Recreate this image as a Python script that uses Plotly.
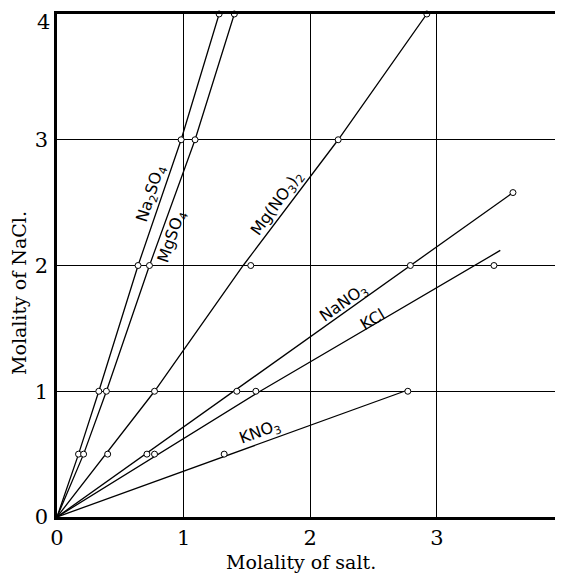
import plotly.graph_objects as go

# Observed points (molality of salt, molality of NaCl)
na2so4_x = [0.17, 0.33, 0.64, 0.98, 1.28]
na2so4_y = [0.5, 1.0, 2.0, 3.0, 4.0]
mgso4_x = [0.21, 0.39, 0.73, 1.09, 1.40]
mgso4_y = [0.5, 1.0, 2.0, 3.0, 4.0]
mgno3_x = [0.40, 0.77, 1.53, 2.22, 2.92]
mgno3_y = [0.5, 1.0, 2.0, 3.0, 4.0]
nano3_x = [0.71, 1.42, 2.79, 3.60]
nano3_y = [0.5, 1.0, 2.0, 2.58]
kcl_x = [0.77, 1.57, 3.45]
kcl_y = [0.5, 1.0, 2.0]
kno3_x = [1.32, 2.77]
kno3_y = [0.5, 1.0]

# Drawn curves
na2so4_cx = [0, 0.17, 0.33, 0.64, 0.98, 1.28]
na2so4_cy = [0, 0.5, 1.0, 2.0, 3.0, 4.0]
mgso4_cx = [0, 0.21, 0.39, 0.73, 1.0, 1.09, 1.40]
mgso4_cy = [0, 0.5, 1.0, 2.0, 2.75, 3.0, 4.0]
mgno3_cx = [0, 0.77, 1.47, 2.22, 2.92]
mgno3_cy = [0, 1.0, 2.0, 3.0, 4.0]
nano3_cx = [0, 3.60]
nano3_cy = [0, 2.58]
kcl_cx = [0, 0.77, 1.57, 3.50]
kcl_cy = [0, 0.48, 0.98, 2.12]
kno3_cx = [0, 2.77]
kno3_cy = [0, 1.01]

labels = ["Na<sub>2</sub>SO<sub>4</sub>", "MgSO<sub>4</sub>", "Mg(NO<sub>3</sub>)<sub>2</sub>",
          "NaNO<sub>3</sub>", "KCl", "KNO<sub>3</sub>"]
label_x = [0.745, 0.91, 1.74, 2.26, 2.49, 1.60]
label_y = [2.57, 2.23, 2.49, 1.70, 1.57, 0.67]
label_angle = [-72, -71, -54, -35, -31, -20]

x_title = "Molality of salt."
y_title = "Molality of NaCl."
x_tick_vals = [0, 1, 2, 3, 4]
x_tick_text = ["0", "1", "2", "3", "4"]
y_tick_vals = [0, 1, 2, 3, 4]
y_tick_text = ["0", "1", "2", "3", ""]   # top label "4" drawn below the frame line
y_top_label = "4"

fig = go.Figure()
curves = [(na2so4_cx, na2so4_cy), (mgso4_cx, mgso4_cy), (mgno3_cx, mgno3_cy),
          (nano3_cx, nano3_cy), (kcl_cx, kcl_cy), (kno3_cx, kno3_cy)]
for cx, cy in curves:
    fig.add_trace(go.Scatter(x=cx, y=cy, mode="lines", line=dict(color="black", width=1.3),
                             showlegend=False, hoverinfo="skip", cliponaxis=False))
pts = [(na2so4_x, na2so4_y), (mgso4_x, mgso4_y), (mgno3_x, mgno3_y),
       (nano3_x, nano3_y), (kcl_x, kcl_y), (kno3_x, kno3_y)]
for px, py in pts:
    fig.add_trace(go.Scatter(x=px, y=py, mode="markers",
                             marker=dict(symbol="circle", size=6, color="white",
                                         line=dict(color="black", width=1)),
                             showlegend=False, cliponaxis=False))

for t, x, y, a in zip(labels, label_x, label_y, label_angle):
    fig.add_annotation(x=x, y=y, text=t, textangle=a, showarrow=False,
                       xanchor="center", yanchor="middle",
                       font=dict(family="DejaVu Sans", size=16, color="black"))

# the page body has a small default margin; size the figure to fit inside the window
OFF = 7
W, H = 563 - OFF, 573 - OFF
L, T = 56 - OFF, 13 - OFF
R = 0
B = H - (516 - OFF)
pw, ph = W - L - R, H - T - B

serif = "DejaVu Serif"
tick_size = 21
# axis titles placed at window pixel positions
title_specs = [(x_title, 300, 561, 0), (y_title, 18, 292, -90)]
for text, sx, sy, ang in title_specs:
    fx, fy = sx - OFF, sy - OFF
    fig.add_annotation(x=(fx - L) / pw, y=(H - B - fy) / ph, xref="paper", yref="paper",
                       xanchor="center", yanchor="middle",
                       text=text, showarrow=False, textangle=ang,
                       font=dict(family=serif, size=19, color="black"))

fig.add_annotation(x=0, y=y_tick_vals[-1], xref="paper", yref="y", text=y_top_label,
                   showarrow=False, xanchor="right", yanchor="middle", xshift=-5, yshift=-8,
                   font=dict(family=serif, size=tick_size, color="black"))

fig.update_layout(
    width=W, height=H,
    margin=dict(l=L, r=R, t=T, b=B),
    paper_bgcolor="white", plot_bgcolor="white",
    font=dict(family=serif, color="black"),
)
fig.update_xaxes(range=[0, 4.003], tickvals=x_tick_vals, ticktext=x_tick_text, automargin=False,
                 showgrid=True, gridcolor="black", gridwidth=1, zeroline=False,
                 showline=True, linecolor="black", linewidth=2.5, mirror=True,
                 ticks="", ticklabelstandoff=0, ticklabeloverflow="allow",
                 tickfont=dict(family=serif, size=tick_size))
fig.update_yaxes(range=[0, 4], tickvals=y_tick_vals, ticktext=y_tick_text, automargin=False,
                 showgrid=True, gridcolor="black", gridwidth=1, zeroline=False,
                 showline=True, linecolor="black", linewidth=2.5, mirror=False,
                 ticks="", ticklabelstandoff=2, ticklabeloverflow="allow",
                 tickfont=dict(family=serif, size=tick_size))

fig.write_html("out.html")
